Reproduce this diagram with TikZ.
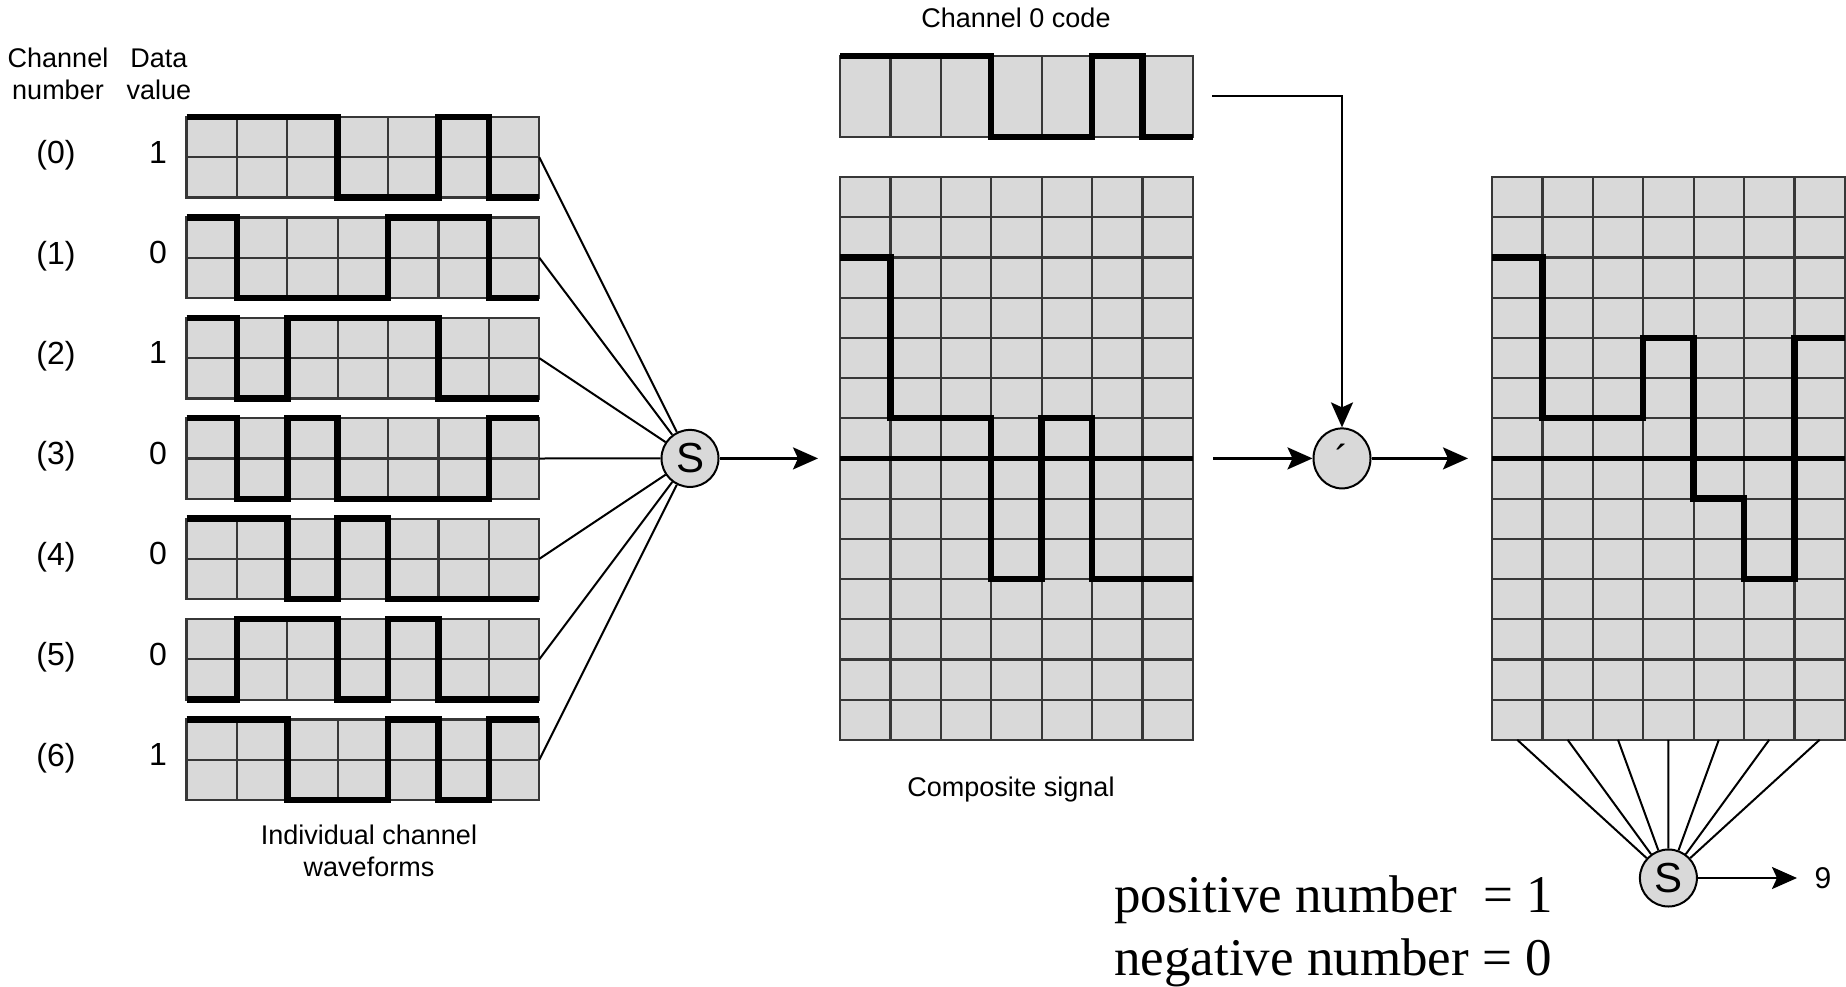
\documentclass[tikz,border=0pt]{standalone}
\usepackage{fontspec}
\setmainfont{Liberation Sans}
\newfontfamily\timesfont{Liberation Serif}
\usetikzlibrary{arrows.meta, shapes.geometric, positioning}
\definecolor{CellGray}{RGB}{217,217,217}
\definecolor{LineGray}{RGB}{55,55,55}

\begin{document}
\begin{tikzpicture}[
  x=1pt, y=-1pt,
  gridbox/.style={draw=LineGray, fill=CellGray, line width=2.2pt, outer sep=0pt, inner sep=0pt},
  gridline/.style={draw=LineGray, line width=2.2pt},
  ongrid/.style n args={2}{shift={(#1.west)}, x=50.4pt, y=#2},
  wavepath/.style={line width=6.5pt},
  zeroline/.style={line width=4.2pt},
  feed/.style={line width=2pt},
  arr/.style={line width=2.4pt, -{Stealth[length=25pt, width=22pt, inset=5pt]}},
  adder/.style={circle, draw, fill=CellGray, line width=2pt, minimum size=57pt,
                inner sep=0pt, font=\fontsize{42}{42}\selectfont},
  mixer/.style={ellipse, draw, fill=CellGray, line width=2pt, minimum width=57pt,
                minimum height=60pt, inner sep=0pt, font=\fontsize{40}{40}\selectfont},
  lbl/.style={font=\fontsize{27}{32}\selectfont, align=center},
  numlbl/.style={font=\fontsize{32}{36}\selectfont},
]
\useasboundingbox (0,0) rectangle (1846,987);

\node[lbl] (hdrchan) at (58,74) {Channel\\number};
\node[lbl] (hdrdata) at (159,74) {Data\\value};

\foreach \i/\d in {0/1,1/0,2/1,3/0,4/0,5/0,6/1}{
  \node[numlbl] (num\i) at (56,{155.5+100.4*\i}) {(\i)};
  \node[numlbl] (val\i) at (158,{152+100.4*\i}) {\d};
  \node[gridbox, minimum width=352.8pt, minimum height=80.6pt] (ch\i) at (362.9,{157.3+100.4*\i}) {};
  \draw[gridline, ongrid={ch\i}{40.3pt}] (0,-1) grid[step={(1,1)}] (7,1);
}
\draw[wavepath, ongrid={ch0}{40.3pt}] (0,1) -| (3,-1) -| (5,1) -| (6,-1) -- (7,-1);
\draw[wavepath, ongrid={ch1}{40.3pt}] (0,1) -| (1,-1) -| (4,1) -| (6,-1) -- (7,-1);
\draw[wavepath, ongrid={ch2}{40.3pt}] (0,1) -| (1,-1) -| (2,1) -| (5,-1) -- (7,-1);
\draw[wavepath, ongrid={ch3}{40.3pt}] (0,1) -| (1,-1) -| (2,1) -| (3,-1) -| (6,1) -- (7,1);
\draw[wavepath, ongrid={ch4}{40.3pt}] (0,1) -| (2,-1) -| (3,1) -| (4,-1) -- (7,-1);
\draw[wavepath, ongrid={ch5}{40.3pt}] (0,-1) -| (1,1) -| (3,-1) -| (4,1) -| (5,-1) -- (7,-1);
\draw[wavepath, ongrid={ch6}{40.3pt}] (0,1) -| (2,-1) -| (4,1) -| (5,-1) -| (6,1) -- (7,1);
\node[lbl] (lblind) at (369,851) {Individual channel\\waveforms};

\node[adder] (sum) at (690,458.4) {S};
\foreach \i in {0,...,6} \draw[feed] (ch\i.east) -- (sum);
\coordinate (compin) at (818,458.4);
\draw[arr] (sum) -- (compin);

\node[lbl] (lblcode) at (1016,18) {Channel 0 code};
\node[gridbox, minimum width=352.8pt, minimum height=81pt] (code) at (1016.4,96.3) {};
\foreach \k in {1,...,6} \draw[gridline, ongrid={code}{40.5pt}] (\k,-1) -- (\k,1);
\draw[wavepath, ongrid={code}{40.5pt}] (0,1) -| (3,-1) -| (5,1) -| (6,-1) -- (7,-1);

\node[gridbox, minimum width=352.8pt, minimum height=562.8pt] (comp) at (1016.4,458.4) {};
\draw[gridline, ongrid={comp}{40.2pt}] (0,-7) grid[step={(1,1)}] (7,7);
\draw[zeroline, ongrid={comp}{40.2pt}] (0,0) -- (7,0);
\draw[wavepath, ongrid={comp}{40.2pt}] (0,5) -| (1,1) -| (3,-3) -| (4,1) -| (5,-3) -- (7,-3);
\node[lbl] (lblcomp) at (1011,790) {Composite signal};

\node[mixer] (mult) at (1342,458.4) {´};
\coordinate (codeout) at (1212,96.3);
\coordinate (compout) at (1213,458.4);
\coordinate (prodin) at (1468,458.4);
\draw[arr] (codeout) -| (mult);
\draw[arr] (compout) -- (mult);
\draw[arr] (mult) -- (prodin);

\node[gridbox, minimum width=352.8pt, minimum height=562.8pt] (prod) at (1668.4,458.4) {};
\draw[gridline, ongrid={prod}{40.2pt}] (0,-7) grid[step={(1,1)}] (7,7);
\draw[zeroline, ongrid={prod}{40.2pt}] (0,0) -- (7,0);
\draw[wavepath, ongrid={prod}{40.2pt}] (0,5) -| (1,1) -| (3,3) -| (4,-1) -| (5,-3) -| (6,3) -- (7,3);

\node[adder] (sum2) at (1668.4,878) {S};
\foreach \k in {0,...,6} \draw[feed] ([xshift={(\k+0.5)*50.4pt}]prod.south west) -- (sum2);
\coordinate (out9) at (1797,878);
\draw[arr] (sum2) -- (out9);
\node[lbl, font=\fontsize{30}{32}\selectfont] (lblnine) at (1823,878) {9};

\node[anchor=base west, inner sep=0pt, font=\timesfont\fontsize{53}{63}\selectfont] (rulepos) at (1114,912) {positive number~ = 1};
\node[anchor=base west, inner sep=0pt, font=\timesfont\fontsize{53}{63}\selectfont] (ruleneg) at (1114,975) {negative number = 0};
\end{tikzpicture}
\end{document}
